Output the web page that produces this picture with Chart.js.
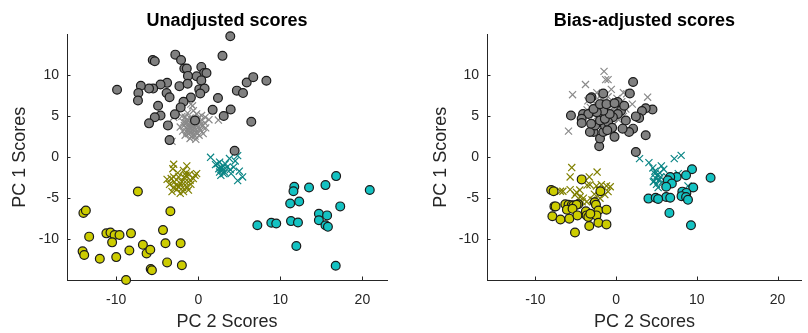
<!DOCTYPE html>
<html lang="en">
  <head>
    <meta charset="UTF-8" />
    <title>PCA scores</title>
    <script src="https://cdn.jsdelivr.net/npm/chart.js@4.4.1/dist/chart.umd.min.js"></script>
    <style>
      body { margin: 0; background: #fff; }
      canvas { position: absolute; top: 0; }
      #left { left: 0; }
      #right { left: 404px; }
    </style>
  </head>
  <body>
    <canvas id="left" width="404" height="333"></canvas>
    <canvas id="right" width="404" height="333"></canvas>

    <script>
      // axis setup
      const xTicks = [-10, 0, 10, 20];
      const yTicks = [-10, -5, 0, 5, 10];
      const xLimits = [-16, 23];
      const yLimits = [-15, 15];

      // Unadjusted scores [PC2, PC1]
      const unadjGrayDots = [[3.9,14.8],[-5.55,11.9],[-5.3,11.75],[-2.8,12.55],[-2.1,11.9],[2.95,12.4],[-1.7,10.85],[-1.4,10.85],[0.37,11.05],[0.7,10.3],[1.0,10.3],[-0.2,9.9],[-1.26,9.95],[0.37,9.4],[-3.8,9.1],[-4.6,8.9],[-5.5,8.4],[-6.0,8.4],[-7.0,8.75],[-9.9,8.25],[-7.3,7.85],[-7.35,6.95],[-3.86,7.85],[-3.5,7.35],[-2.3,8.7],[-1.3,9.0],[0.12,8.3],[0.77,8.4],[0.24,7.8],[-0.9,7.3],[-1.8,6.8],[-2.15,6.1],[-4.9,6.3],[-2.85,5.25],[-4.6,5.1],[-5.3,4.9],[-6.0,4.15],[-3.7,3.9],[-3.5,2.1],[2.4,7.25],[1.75,5.8],[3.1,5.05],[3.95,5.85],[4.7,8.15],[5.45,7.85],[5.9,9.15],[6.7,9.8],[8.3,9.35],[6.46,4.35],[4.43,0.8],[-0.4,4.5]];
      const unadjGrayCross = [[-3.0,4.9],[-3.2,1.95],[2.45,4.55],[0.85,4.9],[-0.9,6.5],[-0.7,6.3],[-0.6,5.7],[-1.3,5.4],[-0.2,5.3],[0.4,5.1],[-1.6,4.9],[-1.0,4.8],[-0.4,4.6],[0.2,4.4],[0.8,4.2],[-1.8,4.3],[-1.2,4.1],[-0.7,4.0],[-0.1,3.9],[0.5,3.8],[-1.5,3.6],[-0.9,3.5],[-0.3,3.4],[0.3,3.3],[0.9,3.6],[-1.9,3.2],[-1.2,2.9],[-0.6,2.8],[0.1,2.7],[0.6,2.9],[-1.0,2.3],[-0.3,2.2],[-1.4,4.6],[0.0,4.8],[-0.6,4.3],[-0.2,3.0],[-1.7,3.9],[-2.2,3.7],[-2.0,5.0],[1.3,4.6],[-1.1,3.8],[-0.8,3.2],[-0.5,3.6],[-0.9,4.2],[-0.3,4.1],[-1.3,3.4],[-0.6,3.9],[-1.0,3.0],[-0.4,2.6],[0.1,3.5],[-1.5,4.2],[-0.7,4.6],[-1.2,4.5],[0.3,4.0],[-1.6,2.7],[-0.8,2.5],[-0.1,4.4],[-0.9,3.8],[-0.5,3.2],[-1.4,3.1]];
      const unadjOliveDots = [[-7.36,-4.19],[-14.0,-6.8],[-13.7,-6.5],[-3.4,-6.6],[-13.3,-9.7],[-11.2,-9.3],[-10.7,-9.2],[-10.2,-9.5],[-9.6,-9.5],[-10.5,-10.4],[-8.2,-9.3],[-4.3,-8.9],[-14.1,-11.5],[-13.9,-11.95],[-12.0,-12.4],[-10.0,-12.2],[-8.4,-11.4],[-6.75,-10.7],[-6.3,-11.75],[-5.85,-11.3],[-4.0,-10.5],[-2.15,-10.5],[-3.8,-12.85],[-5.8,-13.65],[-5.65,-13.8],[-2.0,-13.2],[-8.8,-15.0]];
      const unadjOliveCross = [[-3.0,-0.85],[-3.1,-1.4],[-1.4,-1.05],[-1.5,-1.9],[-1.8,-1.6],[-1.1,-2.1],[-0.4,-2.2],[-0.2,-2.0],[-2.4,-2.4],[-3.0,-2.4],[-3.8,-2.7],[-3.3,-2.6],[-2.0,-3.0],[-1.0,-2.8],[-0.6,-2.6],[-2.7,-3.4],[-1.4,-3.6],[-2.2,-3.2],[-1.7,-2.5],[-3.2,-4.2],[-2.2,-4.4],[-1.8,-4.2],[-1.2,-4.0],[-2.6,-3.9],[-3.5,-3.3],[-1.9,-3.7],[-0.9,-3.3],[-2.9,-3.0],[-1.5,-2.2],[-2.5,-1.9],[-2.4,-3.6],[-1.6,-3.0],[-3.0,-3.7]];
      const unadjTealDots = [[16.8,-2.3],[20.9,-4.0],[15.5,-3.4],[13.5,-3.7],[11.7,-3.6],[11.6,-4.15],[12.3,-5.4],[11.2,-5.65],[17.3,-6.0],[14.7,-6.9],[15.7,-7.1],[14.7,-7.7],[15.5,-8.3],[15.8,-8.5],[11.3,-7.8],[12.15,-7.97],[8.9,-8.0],[9.5,-8.1],[7.2,-8.3],[11.95,-10.85],[16.75,-13.25]];
      const unadjTealCross = [[1.5,0.0],[2.3,-0.8],[2.6,-0.6],[3.0,-1.05],[2.9,-1.6],[2.75,-2.2],[3.5,-1.2],[3.9,-1.5],[4.3,-1.2],[3.8,-0.15],[4.8,0.2],[4.5,-0.45],[5.0,-1.7],[5.4,-2.4],[4.8,-2.85],[3.2,-1.8],[2.6,-1.8],[2.1,-0.9],[4.0,-2.0],[2.9,-1.3],[3.3,-0.8],[2.5,-1.4],[3.1,-2.0]];

      // Bias-adjusted scores [PC2, PC1]
      const adjGrayDots = [[2.1,9.2],[1.7,7.8],[-5.6,5.1],[-4.1,5.3],[-3.45,5.3],[-4.27,4.7],[-4.27,4.2],[-3.05,7.35],[-3.2,7.2],[4.5,5.85],[3.66,6.0],[3.2,5.65],[2.85,4.8],[2.44,5.0],[1.2,4.5],[2.1,3.5],[1.6,3.1],[0.8,3.5],[3.66,2.7],[-0.2,2.5],[2.44,0.65],[-2.1,1.35],[-2.0,2.3],[-2.8,3.1],[-3.25,3.1],[-1.6,3.1],[-1.4,3.9],[-2.6,3.9],[-3.1,4.1],[-2.0,4.5],[-1.6,7.8],[0.2,6.75],[0.6,5.7],[0.2,5.3],[-0.4,4.9],[-1.0,4.3],[-1.4,4.7],[-0.8,5.3],[-1.6,5.7],[-2.4,5.5],[-2.8,5.9],[-2.0,6.5],[-1.2,6.5],[-0.2,6.6],[1.0,6.3],[-0.5,3.6],[-1.1,3.3]];
      const adjGrayCross = [[-1.5,10.5],[-1.3,9.5],[-1.0,9.5],[-3.8,8.9],[-5.4,7.65],[-0.6,8.3],[1.3,7.75],[3.9,7.35],[-5.9,3.2],[-2.4,7.9],[-2.0,7.5],[-1.8,7.1],[-1.0,7.4],[0.1,7.2],[-2.6,6.6],[-1.6,6.5],[-0.8,6.8],[0.4,6.4],[-3.2,6.1],[-2.2,6.0],[-1.3,6.1],[-0.5,5.9],[0.5,5.6],[1.2,5.9],[-2.9,5.5],[-1.9,5.4],[-1.0,5.5],[-0.1,5.2],[0.9,5.0],[-2.5,4.9],[-1.6,4.7],[-0.7,4.8],[0.3,4.6],[-2.1,4.2],[-1.2,4.1],[-0.3,4.0],[-3.6,5.8],[-1.5,5.9],[-0.6,6.3],[2.0,6.5],[-3.5,6.9],[0.9,7.9],[-2.3,6.3],[-1.7,5.1],[-0.9,5.0],[-0.4,5.5],[-1.2,5.7],[-2.0,5.7],[-1.4,6.9],[-0.2,6.0],[-2.7,5.2],[-1.9,6.8],[0.7,6.8],[-1.1,4.5]];
      const adjOliveDots = [[-8.05,-4.0],[-7.75,-4.15],[-4.27,-2.7],[-1.95,-4.15],[-7.65,-6.0],[-7.5,-6.0],[-7.9,-7.2],[-6.9,-7.6],[-5.8,-7.5],[-6.3,-5.75],[-5.9,-5.8],[-5.5,-5.85],[-5.3,-5.9],[-4.7,-5.75],[-4.9,-5.8],[-6.1,-6.4],[-5.4,-6.3],[-4.8,-7.1],[-3.75,-6.6],[-3.66,-7.1],[-3.45,-7.3],[-2.65,-5.5],[-2.5,-5.8],[-2.2,-6.5],[-1.2,-6.4],[-2.44,-7.1],[-2.2,-8.0],[-1.2,-8.2],[-3.33,-8.4],[-5.1,-9.2],[-3.2,-6.9]];
      const adjOliveCross = [[-5.5,-1.25],[-5.7,-2.4],[-3.33,-2.4],[-2.36,-1.8],[-6.9,-4.15],[-6.6,-4.15],[-5.7,-3.95],[-4.9,-4.3],[-3.25,-3.35],[-2.44,-3.5],[-1.83,-3.35],[-1.2,-3.5],[-0.73,-3.6],[-1.0,-4.2],[-1.4,-4.55],[-4.06,-5.0],[-3.66,-5.45],[-2.84,-5.25],[-2.0,-5.0],[-4.47,-4.85],[-5.1,-4.6],[-3.6,-3.4],[-4.2,-5.45],[-3.0,-5.2],[-3.25,-6.95],[-2.1,-4.0],[-4.5,-4.0],[-2.7,-4.5]];
      const adjTealDots = [[9.4,-1.46],[11.7,-2.5],[8.66,-2.2],[7.5,-2.4],[6.7,-2.4],[6.4,-2.8],[6.9,-3.2],[6.2,-3.6],[9.55,-3.7],[8.2,-4.2],[8.7,-4.35],[8.1,-4.75],[8.66,-4.85],[8.9,-5.2],[6.2,-4.85],[6.7,-4.95],[4.0,-5.05],[4.9,-4.95],[5.2,-5.1],[6.6,-6.8],[9.27,-8.3]];
      const adjTealCross = [[2.9,-0.16],[4.06,-0.65],[4.55,-1.3],[4.8,-1.7],[5.6,-1.06],[5.9,-1.46],[7.2,-0.16],[8.05,0.24],[4.9,-2.55],[5.1,-2.2],[5.3,-2.8],[4.7,-2.9],[5.0,-3.3],[5.2,-3.7],[4.8,-2.0],[5.5,-2.4],[5.7,-3.0],[7.7,-2.0],[8.9,-3.5],[6.3,-2.4],[4.6,-3.0],[5.4,-1.9]];

      const axisColor = "#262626";
      Chart.defaults.font.family = '"Liberation Sans", Arial, sans-serif';
      Chart.defaults.color = axisColor;

      // MATLAB style ticks pointing into the plot
      const inwardTicks = {
        id: "inwardTicks",
        afterDraw(chart) {
          const { ctx, chartArea, scales } = chart;
          ctx.save();
          ctx.strokeStyle = axisColor;
          ctx.lineWidth = 1;
          ctx.beginPath();
          scales.x.ticks.forEach((t) => {
            const px = Math.round(scales.x.getPixelForValue(t.value)) + 0.5;
            ctx.moveTo(px, chartArea.bottom);
            ctx.lineTo(px, chartArea.bottom - 3.5);
          });
          scales.y.ticks.forEach((t) => {
            const py = Math.round(scales.y.getPixelForValue(t.value)) + 0.5;
            ctx.moveTo(chartArea.left, py);
            ctx.lineTo(chartArea.left + 3.5, py);
          });
          ctx.stroke();
          ctx.restore();
        },
      };

      function pts(arr) {
        return arr.map((p) => ({ x: p[0], y: p[1] }));
      }

      function dots(arr, fill) {
        return {
          data: pts(arr),
          pointStyle: "circle",
          pointRadius: 4.4,
          pointHoverRadius: 4.4,
          pointBorderWidth: 1.2,
          pointBackgroundColor: fill,
          pointBorderColor: "#1a1a1a",
          clip: false,
        };
      }

      function crosses(arr, color) {
        return {
          data: pts(arr),
          pointStyle: "crossRot",
          pointRadius: 5,
          pointHoverRadius: 5,
          pointBorderWidth: 1.2,
          pointBorderColor: color,
          clip: false,
        };
      }

      function makeChart(id, title, sets, yWidth, yTitlePad, padRight) {
        new Chart(document.getElementById(id), {
          type: "scatter",
          data: { datasets: sets },
          plugins: [inwardTicks],
          options: {
            responsive: false,
            animation: false,
            layout: { padding: { left: 0, right: padRight, top: 0, bottom: 0 } },
            plugins: {
              legend: { display: false },
              tooltip: { enabled: false },
              title: {
                display: true,
                text: title,
                fullSize: false,
                color: "#000",
                font: { size: 18, weight: "bold", lineHeight: 1.2 },
                padding: { top: 10, bottom: 3 },
              },
            },
            scales: {
              x: {
                min: xLimits[0],
                max: xLimits[1],
                afterBuildTicks: (s) => { s.ticks = xTicks.map((v) => ({ value: v })); },
                afterFit: (s) => { s.height = 53; },
                grid: { display: false, drawTicks: false },
                border: { display: true, color: axisColor, width: 1 },
                ticks: { padding: 12, font: { size: 14 }, color: axisColor },
                title: {
                  display: true,
                  text: "PC 2 Scores",
                  font: { size: 18, lineHeight: 1.2 },
                  padding: { top: 0, bottom: 0 },
                  color: axisColor,
                },
              },
              y: {
                min: yLimits[0],
                max: yLimits[1],
                afterBuildTicks: (s) => { s.ticks = yTicks.map((v) => ({ value: v })); },
                afterFit: (s) => { s.width = yWidth; },
                grid: { display: false, drawTicks: false },
                border: { display: true, color: axisColor, width: 1 },
                ticks: { padding: 8, font: { size: 14 }, color: axisColor },
                title: {
                  display: true,
                  text: "PC 1 Scores",
                  font: { size: 18, lineHeight: 1.2 },
                  padding: { top: yTitlePad, bottom: 0 },
                  color: axisColor,
                },
              },
            },
          },
        });
      }

      const grayFill = "#808080", grayMark = "#8a8a8a";
      const oliveFill = "#cccc00", oliveMark = "#808000";
      const tealFill = "#14c2c2", tealMark = "#0a8585";

      makeChart("left", "Unadjusted scores", [
        dots(unadjGrayDots, grayFill),
        crosses(unadjGrayCross, grayMark),
        dots(unadjOliveDots, oliveFill),
        crosses(unadjOliveCross, oliveMark),
        dots(unadjTealDots, tealFill),
        crosses(unadjTealCross, tealMark),
      ], 67, 9, 17);

      makeChart("right", "Bias-adjusted scores", [
        dots(adjGrayDots, grayFill),
        crosses(adjGrayCross, grayMark),
        dots(adjOliveDots, oliveFill),
        crosses(adjOliveCross, oliveMark),
        dots(adjTealDots, tealFill),
        crosses(adjTealCross, tealMark),
      ], 83, 26, 0);
    </script>
  </body>
</html>
